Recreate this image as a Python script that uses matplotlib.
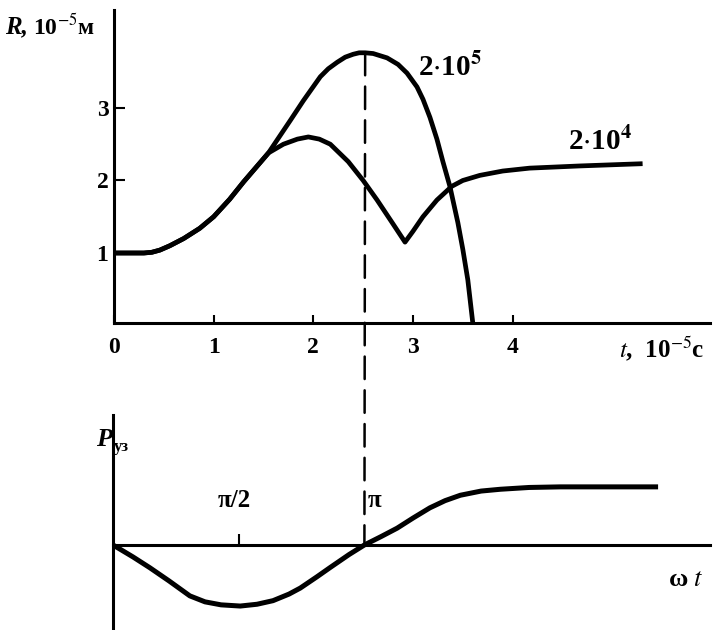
import numpy as np
import matplotlib.pyplot as plt
from matplotlib.patches import ConnectionPatch

plt.rcParams['font.family'] = ['Liberation Serif', 'DejaVu Serif']
plt.rcParams['mathtext.fontset'] = 'stix'

# bubble radius R (10^-5 m) vs time t (10^-5 s)
t_low = [0.0, 0.2, 0.3, 0.38, 0.46, 0.56, 0.7, 0.86, 1.0, 1.16, 1.3, 1.55,
         1.7, 1.84, 1.95, 2.06, 2.17, 2.35, 2.5, 2.64, 2.8, 2.92, 3.0, 3.1,
         3.24, 3.39, 3.5, 3.67, 3.9, 4.17, 4.67, 5.28]
R_low = [1.0, 1.0, 1.0, 1.01, 1.04, 1.1, 1.2, 1.34, 1.5, 1.74, 1.98, 2.38,
         2.5, 2.57, 2.6, 2.57, 2.5, 2.26, 2.0, 1.73, 1.4, 1.15, 1.3, 1.5,
         1.73, 1.92, 2.0, 2.07, 2.13, 2.17, 2.2, 2.23]

t_high = [0.0, 0.2, 0.3, 0.38, 0.46, 0.56, 0.7, 0.86, 1.0, 1.16, 1.3, 1.55,
          1.77, 1.9, 2.07, 2.15, 2.24, 2.32, 2.4, 2.46, 2.52, 2.6, 2.74,
          2.85, 2.94, 3.04, 3.1, 3.17, 3.24, 3.3, 3.37, 3.45, 3.5, 3.55, 3.6]
R_high = [1.0, 1.0, 1.0, 1.01, 1.04, 1.1, 1.2, 1.34, 1.5, 1.74, 1.98, 2.38,
          2.83, 3.1, 3.43, 3.54, 3.63, 3.7, 3.74, 3.76, 3.76, 3.75, 3.69,
          3.6, 3.48, 3.29, 3.12, 2.87, 2.57, 2.26, 1.92, 1.42, 1.05, 0.63, 0.035]

t_peak, R_peak = 2.52, 3.76

# ultrasound pressure vs phase
wt = [0.0, 0.25, 0.46, 0.7, 0.96, 1.15, 1.35, 1.59, 1.8, 2.0, 2.2, 2.34,
      2.55, 2.71, 2.95, np.pi, 3.35, 3.55, 3.75, 3.96, 4.15, 4.34, 4.6,
      4.84, 5.2, 5.59, 6.78]
P = [0.0, -0.2, -0.38, -0.6, -0.85, -0.95, -1.0, -1.02, -0.99, -0.93, -0.82,
     -0.72, -0.53, -0.38, -0.16, 0.0, 0.14, 0.28, 0.45, 0.62, 0.74, 0.83,
     0.9, 0.93, 0.96, 0.97, 0.97]

W, H = 715, 630


def box(l, t, r, b):
    return [l / W, 1 - b / H, (r - l) / W, (b - t) / H]


fig = plt.figure(figsize=(W / 100, H / 100), dpi=100)

# top panel
ax1 = fig.add_axes(box(114, 10, 710, 323))
ax1.plot(t_high, R_high, color='black', lw=3.4)
ax1.plot(t_low, R_low, color='black', lw=3.4)
ax1.set_xlim(0, 5.98)
ax1.set_ylim(0.035, 4.35)
ax1.set_xticks([0, 1, 2, 3, 4])
ax1.set_yticks([1, 2, 3])
ax1.tick_params(axis='x', direction='in', length=6, width=1.5, pad=10, labelsize=17)
ax1.tick_params(axis='y', direction='in', length=8, width=1.5, pad=4, labelsize=17)
for lab in ax1.get_xticklabels() + ax1.get_yticklabels():
    lab.set_fontweight('bold')
for s in ['top', 'right']:
    ax1.spines[s].set_visible(False)
for s in ['left', 'bottom']:
    ax1.spines[s].set_linewidth(2.2)

ax1.text(3.37, 3.56, r'2$\cdot$10$^{\mathbf{5}}$', fontsize=21, fontweight='bold',
         ha='center', va='center')
ax1.text(4.88, 2.53, r'2$\cdot$10$^{\mathbf{4}}$', fontsize=21, fontweight='bold',
         ha='center', va='center')
ax1.text(5.5, -0.32, r'$t$,  10$^{-5}$с', fontsize=18, fontweight='bold',
         ha='center', va='center', clip_on=False)
fig.text(5 / W, 1 - 27 / H, 'R,', fontsize=18, fontweight='bold', style='italic',
         va='center')
fig.text(33 / W, 1 - 27 / H, r'10$^{-5}$м', fontsize=17, fontweight='bold',
         va='center')

# bottom panel
ax2 = fig.add_axes(box(113, 415, 710, 630))
ax2.plot(wt, P, color='black', lw=3.6)
ax2.set_xlim(0, 7.46)
ax2.set_ylim(-1.42, 2.17)
ax2.spines['bottom'].set_position(('data', 0))
ax2.spines['left'].set_position(('data', 0))
for s in ['top', 'right']:
    ax2.spines[s].set_visible(False)
for s in ['left', 'bottom']:
    ax2.spines[s].set_linewidth(2.2)
ax2.set_xticks([np.pi / 2])
ax2.set_xticklabels([''])
ax2.set_yticks([])
ax2.tick_params(axis='x', direction='in', length=8, width=1.5)

ax2.text(1.52, 0.75, 'π/2', fontsize=18, fontweight='bold',
         ha='center', va='center')
ax2.text(3.27, 0.75, 'π', fontsize=18, fontweight='bold', ha='center', va='center')
ax2.text(7.16, -0.57, r'ω $t$', fontsize=19, fontweight='bold',
         ha='center', va='center', clip_on=False)
fig.text(96 / W, 1 - 440 / H, 'P', fontsize=19, fontweight='bold',
         style='italic', va='center')
fig.text(114 / W, 1 - 447 / H, 'уз', fontsize=12, fontweight='bold', va='center')

# dashed line from the peak of R down to ωt = π
con = ConnectionPatch(xyA=(t_peak, R_peak), coordsA=ax1.transData,
                      xyB=(np.pi, 0), coordsB=ax2.transData,
                      color='black', lw=1.8, linestyle=(0, (9, 4.5)))
fig.add_artist(con)

fig.savefig('out.png', dpi=100)
